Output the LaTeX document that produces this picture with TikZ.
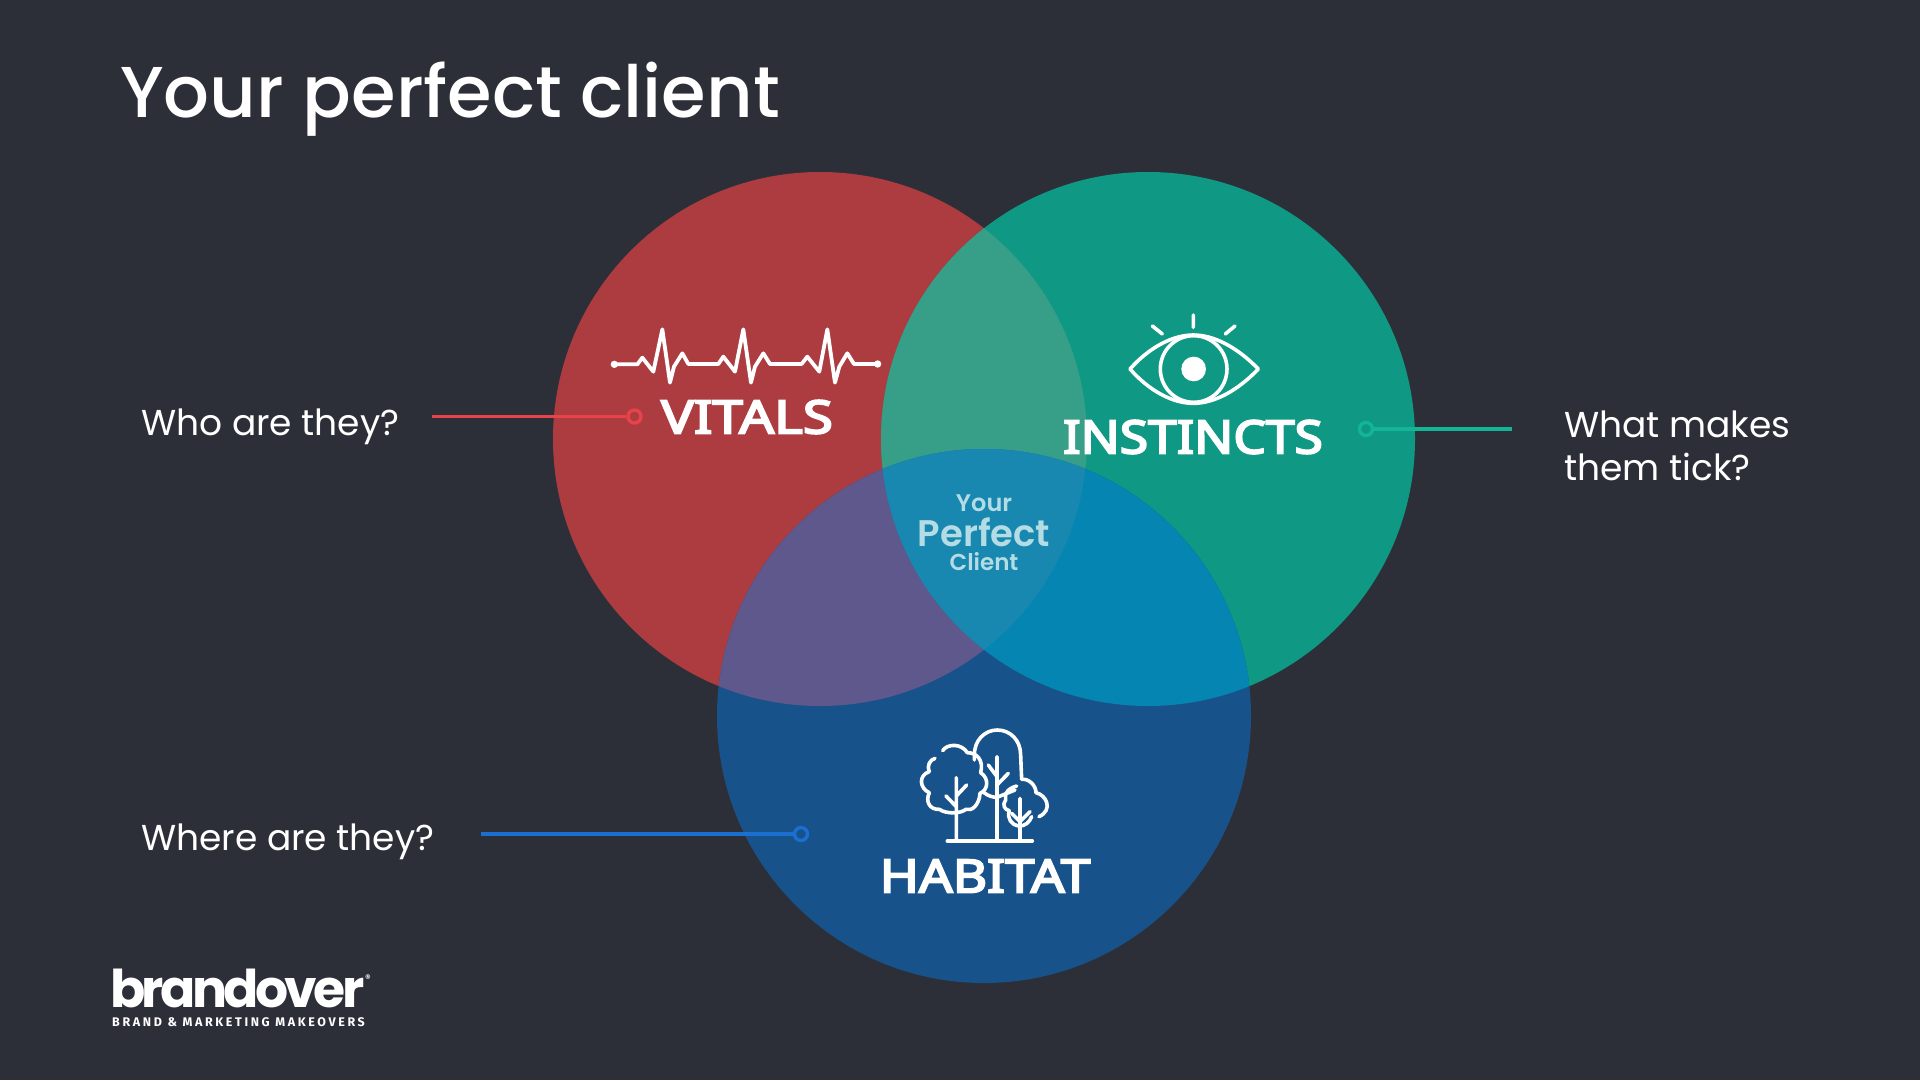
\documentclass[tikz,border=0pt]{standalone}
\usepackage{graphicx}
\usepackage{fontspec}
\setmainfont{Poppins}
\newfontfamily\popmed{Poppins Medium}
\newfontfamily\popsemi{Poppins SemiBold}
\newfontfamily\popbold{Poppins Bold}[LetterSpace=-7]
\newfontfamily\headfont{Noto Sans}[FakeBold=4]
\newfontfamily\tagfont{Fira Sans}[LetterSpace=21]
\definecolor{bg}{HTML}{2D2F38}
\definecolor{cR}{HTML}{AD3C40}
\definecolor{cG}{HTML}{0F9984}
\definecolor{cB}{HTML}{18528A}
\definecolor{cRG}{HTML}{379E88}
\definecolor{cRB}{HTML}{5E588C}
\definecolor{cGB}{HTML}{0586B2}
\definecolor{cC}{HTML}{1888B0}
\definecolor{lineR}{HTML}{E8424A}
\definecolor{lineG}{HTML}{12B595}
\definecolor{lineB}{HTML}{1A6FD0}
\definecolor{midtxt}{HTML}{B4DCE4}
\tikzset{
  ring/.style={circle,draw=#1,line width=3.4pt,inner sep=0pt,minimum size=13pt},
  link/.style={draw=#1,line width=3.6pt},
  label/.style={text=white,anchor=base west,font=\fontsize{36}{43}\selectfont,inner sep=0pt},
  head/.style={text=white,font=\headfont\fontsize{46}{46}\selectfont,inner sep=0pt},
  icon/.style={draw=white,line width=1.1pt,line cap=round,line join=round},
}
\newcommand{\Rc}{(820,439) circle (267)}
\newcommand{\Gc}{(1148,439) circle (267)}
\newcommand{\Bc}{(984,716) circle (267)}
\begin{document}
\begin{tikzpicture}[x=1pt,y=-1pt]
\useasboundingbox (0,0) rectangle (1920,1080);
\fill[bg] (0,0) rectangle (1920,1080);
% circles
\fill[cR] \Rc; \fill[cG] \Gc; \fill[cB] \Bc;
\begin{scope}\clip \Rc; \fill[cRG] \Gc; \fill[cRB] \Bc; \end{scope}
\begin{scope}\clip \Gc; \fill[cGB] \Bc; \end{scope}
\begin{scope}\clip \Rc; \clip \Gc; \fill[cC] \Bc; \end{scope}
% text
\node[text=white,anchor=base west,inner sep=0pt,font=\popmed\fontsize{72}{72}\selectfont] (title) at (120,117) {Your perfect client};
\node[label] (qa) at (141,435) {Who are they?};
\node[label] (qb) at (141,850) {Where are they?};
\node[label,align=left,anchor=north west] (qc) at (1564,411) {What makes\\them tick?};
\node[head] (vitals) at (747,417) {\scalebox{1.19}[1]{VITALS}};
\node[head] (instincts) at (1193,437) {\scalebox{1.12}[1]{INSTINCTS}};
\node[head] (habitat) at (985,876) {\scalebox{1.15}[1]{HABITAT}};
\node[text=midtxt,inner sep=0pt,font=\popsemi\fontsize{24}{24}\selectfont] (your) at (984,503) {Your};
\node[text=midtxt,inner sep=0pt,font=\popsemi\fontsize{37}{37}\selectfont] (perfect) at (984,532) {Perfect};
\node[text=midtxt,inner sep=0pt,font=\popsemi\fontsize{23}{23}\selectfont] (clientw) at (984,562) {Client};
% connectors
\node[ring=lineR] (rr) at (634.5,416.5) {};
\node[ring=lineG] (rg) at (1366,429) {};
\node[ring=lineB] (rb) at (801,834) {};
\coordinate (er) at (432,416.5);
\coordinate (eg) at (1512,429);
\coordinate (eb) at (481,834);
\draw[link=lineR] (er) -- (rr);
\draw[link=lineG] (rg) -- (eg);
\draw[link=lineB] (eb) -- (rb);
% ECG
\begin{scope}[shift={(580,290)},x=0.3333pt,y=-0.3333pt]
\draw[icon,line width=3.8pt] (103,223)--(172,223)--(187,203)--(220,245)--(247,118)--(270,278)--(282,230)--(307,190)--(325,222)--(415,222)--(430,200)--(465,245)--(490,118)--(513,278)--(525,230)--(550,190)--(570,222)--(665,222)--(682,200)--(718,245)--(742,118)--(765,278)--(778,230)--(802,190)--(822,222)--(893,222);
\fill[white] (103,223) circle (11) (893,222) circle (11);
\end{scope}
% eye
\begin{scope}[shift={(1040,290)},x=0.3333pt,y=-0.3333pt]
\draw[icon,line width=3.6pt] (270,237) .. controls (330,170) and (400,135) .. (460,135) .. controls (520,135) and (590,170) .. (655,237) .. controls (590,305) and (520,340) .. (460,340) .. controls (400,340) and (330,305) .. (270,237) -- cycle;
\draw[icon,line width=3.6pt] (461,237) circle (100);
\fill[white] (461,237) circle (37);
\draw[icon,line width=3.6pt] (460,75)--(460,112) (337,108)--(367,132) (585,108)--(556,132);
\end{scope}
% trees
\begin{scope}[shift={(860,710)},x=0.3333pt,y=-0.3333pt]
\begin{scope}[icon,line width=3.6pt]
\draw (262,393)--(517,393);
\draw (411,393)--(411,140) (385,165)--(411,200) (445,190)--(411,225) (411,262)--(465,240);
\draw (343,150) -- (343,135) .. controls (343,90) and (375,60) .. (412,60) .. controls (450,60) and (482,90) .. (482,135) -- (485,208);
\draw (372,248) .. controls (385,258) and (398,262) .. (411,262);
\draw (248,122) .. controls (262,100) and (305,100) .. (322,128) .. controls (350,128) and (372,150) .. (362,188) .. controls (388,205) and (385,240) .. (360,250) .. controls (358,285) and (335,305) .. (318,298) .. controls (300,312) and (258,312) .. (238,298) .. controls (210,300) and (195,275) .. (208,248) .. controls (178,235) and (175,195) .. (208,185) .. controls (200,165) and (210,150) .. (225,145);
\draw (289,393)--(289,203) (258,258)--(289,290) (320,225)--(289,258);
\draw (480,393)--(480,265) (455,310)--(480,335) (510,305)--(480,335);
\draw (485,208) .. controls (505,205) and (528,225) .. (528,248) .. controls (560,255) and (580,300) .. (537,320);
\draw (470,228) .. controls (445,235) and (432,250) .. (437,270) .. controls (425,285) and (435,300) .. (448,302) .. controls (440,325) and (455,345) .. (475,348) .. controls (495,350) and (510,335) .. (515,320);
\end{scope}
\end{scope}
% logo
\node[text=white,anchor=base west,inner sep=0pt,font=\popbold\fontsize{52}{52}\selectfont] (logo) at (110,1007) {brandover};
\node[text=white,inner sep=0pt,font=\popmed\fontsize{11}{11}\selectfont] (reg) at (368,979) {®};
\node[text=white,anchor=base west,inner sep=0pt,font=\tagfont\bfseries\fontsize{12.5}{13}\selectfont] (tag) at (112,1026) {BRAND \& MARKETING MAKEOVERS};
\end{tikzpicture}
\end{document}
